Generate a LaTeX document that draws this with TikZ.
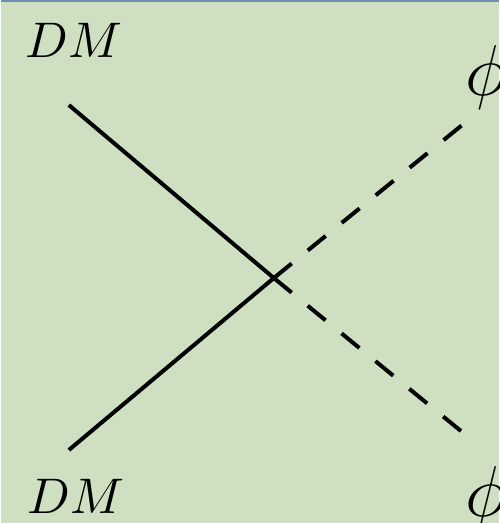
\documentclass[tikz,border=0pt]{standalone}
\usepackage{amsmath,amssymb}
\usepackage{tikz}
\usetikzlibrary{positioning}

\definecolor{panelgreen}{RGB}{206,224,193}
\definecolor{panelrule}{RGB}{112,140,178}

\begin{document}
\begin{tikzpicture}[x=0.2pt, y=-0.2pt,
  fermion/.style={line width=0.8pt},
  scalar/.style={line width=0.8pt, dash pattern=on 4.6pt off 4.15pt},
  lbl/.style={inner sep=0pt, font=\normalsize},
  philbl/.style={inner sep=0pt, font=\fontsize{13.5}{15}\selectfont}]
% background panel
\fill[panelgreen] (0,0) rectangle (498,523);
\draw[panelrule, line width=0.35pt] (0,0.8) -- (498,0.8);
\useasboundingbox (0,0) rectangle (498,523);
% vertex and external legs
\coordinate (v) at (273,278);
\coordinate (in1) at (68,105);
\coordinate (in2) at (68,450);
\coordinate (out1) at (465,122);
\coordinate (out2) at (465,435);
\draw[fermion] (in1) -- (v);
\draw[fermion] (in2) -- (v);
\draw[scalar] (v) -- (out1);
\draw[scalar] (v) -- (out2);
% labels
\node[lbl, anchor=base] (dmtop) at (73,57) {$DM$};
\node[lbl, anchor=base] (dmbot) at (75,513) {$DM$};
\node[philbl, anchor=base west] (phitop) at (464,95) {$\phi$};
\node[philbl, anchor=base west] (phibot) at (464,516) {$\phi$};
\end{tikzpicture}
\end{document}
